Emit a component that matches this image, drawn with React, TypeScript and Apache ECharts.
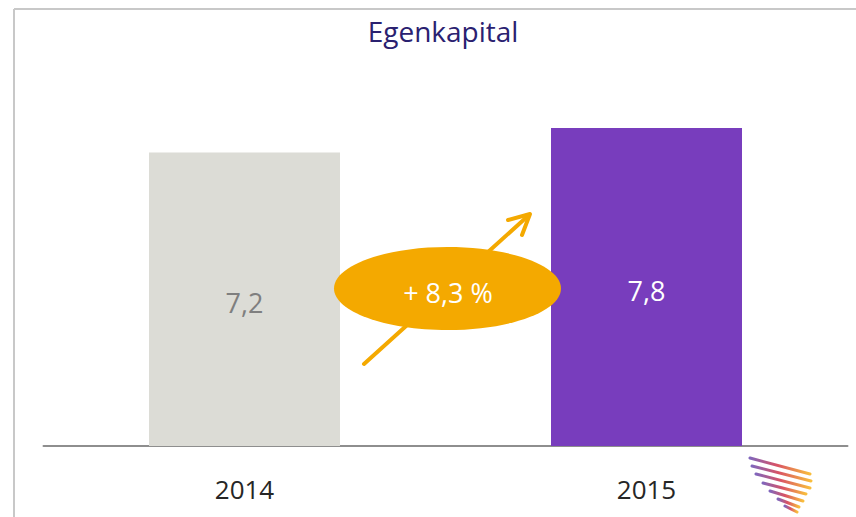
import React, { useEffect, useRef } from "react";
import * as echarts from "echarts";

const categories = ["2014", "2015"];
const values = [7.2, 7.8];
const valueLabels = ["7,2", "7,8"];
const changeLabel = "+ 8,3 %";
const titleText = "Egenkapital";

const FONT = "'Open Sans', 'Noto Sans', sans-serif";

export default function App() {
  const ref = useRef<HTMLDivElement>(null);
  useEffect(() => {
    if (!ref.current) return;
    const chart = echarts.init(ref.current, undefined, { renderer: "svg" });
    const logoStripes = [
      [750, 458, 810, 474],
      [752, 466, 811, 481],
      [756, 474, 810, 488],
      [763, 483, 806, 494],
      [770, 491, 803, 501],
      [778, 499, 799, 507],
      [785, 506, 797, 512],
    ];
    const grad = () =>
      new echarts.graphic.LinearGradient(0, 0, 1, 0, [
        { offset: 0, color: "#6a4bb0" },
        { offset: 0.45, color: "#d2344a" },
        { offset: 1, color: "#f7b21a" },
      ]);
    chart.setOption({
      animation: false,
      backgroundColor: "#ffffff",
      title: {
        text: titleText,
        left: 438,
        top: 12,
        textAlign: "center",
        textStyle: {
          color: "#2a2170",
          fontSize: 28,
          fontWeight: "normal",
          fontFamily: FONT,
        },
      },
      grid: { left: 43.5, width: 804, top: 79, bottom: 71 },
      xAxis: {
        type: "category",
        data: categories,
        axisLine: { lineStyle: { color: "#8e8e8e", width: 2 } },
        axisTick: { show: false },
        axisLabel: {
          color: "#262626",
          fontSize: 26,
          fontFamily: FONT,
          margin: 28,
          lineHeight: 30,
        },
      },
      yAxis: {
        type: "value",
        min: 0,
        max: 9,
        show: false,
        splitLine: { show: false },
      },
      series: [
        {
          type: "bar",
          barWidth: 191,
          data: values.map((v, i) => ({
            value: v,
            itemStyle: { color: i === 0 ? "#dcdcd6" : "#783dbd" },
            label: {
              show: true,
              position: "inside",
              offset: [0, i === 0 ? 3 : 4],
              formatter: valueLabels[i],
              color: i === 0 ? "#7f7f7f" : "#ffffff",
              fontSize: 27,
              fontFamily: FONT,
            },
          })),
        },
      ],
      graphic: [
        {
          type: "line",
          shape: { x1: 14, y1: 9, x2: 856, y2: 9 },
          style: { stroke: "#c8c8c8", lineWidth: 2 },
        },
        {
          type: "line",
          shape: { x1: 14, y1: 9, x2: 14, y2: 517 },
          style: { stroke: "#c8c8c8", lineWidth: 2 },
        },
        {
          type: "polyline",
          z: 10,
          shape: { points: [[364, 364], [529, 215]] },
          style: { stroke: "#f4a900", lineWidth: 4, lineCap: "round" },
        },
        {
          type: "polyline",
          z: 10,
          shape: { points: [[508, 220], [530, 214], [522, 235]] },
          style: { stroke: "#f4a900", lineWidth: 4, lineCap: "round", lineJoin: "round", fill: "none" },
        },
        {
          type: "ellipse",
          z: 11,
          shape: { cx: 447.5, cy: 288.5, rx: 113.5, ry: 41.5 },
          style: { fill: "#f4a900" },
        },
        {
          type: "text",
          z: 12,
          x: 448,
          y: 292,
          style: {
            text: changeLabel,
            fill: "#ffffff",
            fontSize: 27,
            fontFamily: FONT,
            textAlign: "center",
            textVerticalAlign: "middle",
          },
        },
        ...logoStripes.map((s) => ({
          type: "line",
          z: 10,
          shape: { x1: s[0], y1: s[1], x2: s[2], y2: s[3] },
          style: { stroke: grad(), lineWidth: 3, lineCap: "round", opacity: 0.85 },
        })),
      ],
    });
    return () => chart.dispose();
  }, []);
  return (
    <div
      ref={ref}
      style={{ position: "fixed", left: 0, top: 0, width: 856, height: 517 }}
    />
  );
}
